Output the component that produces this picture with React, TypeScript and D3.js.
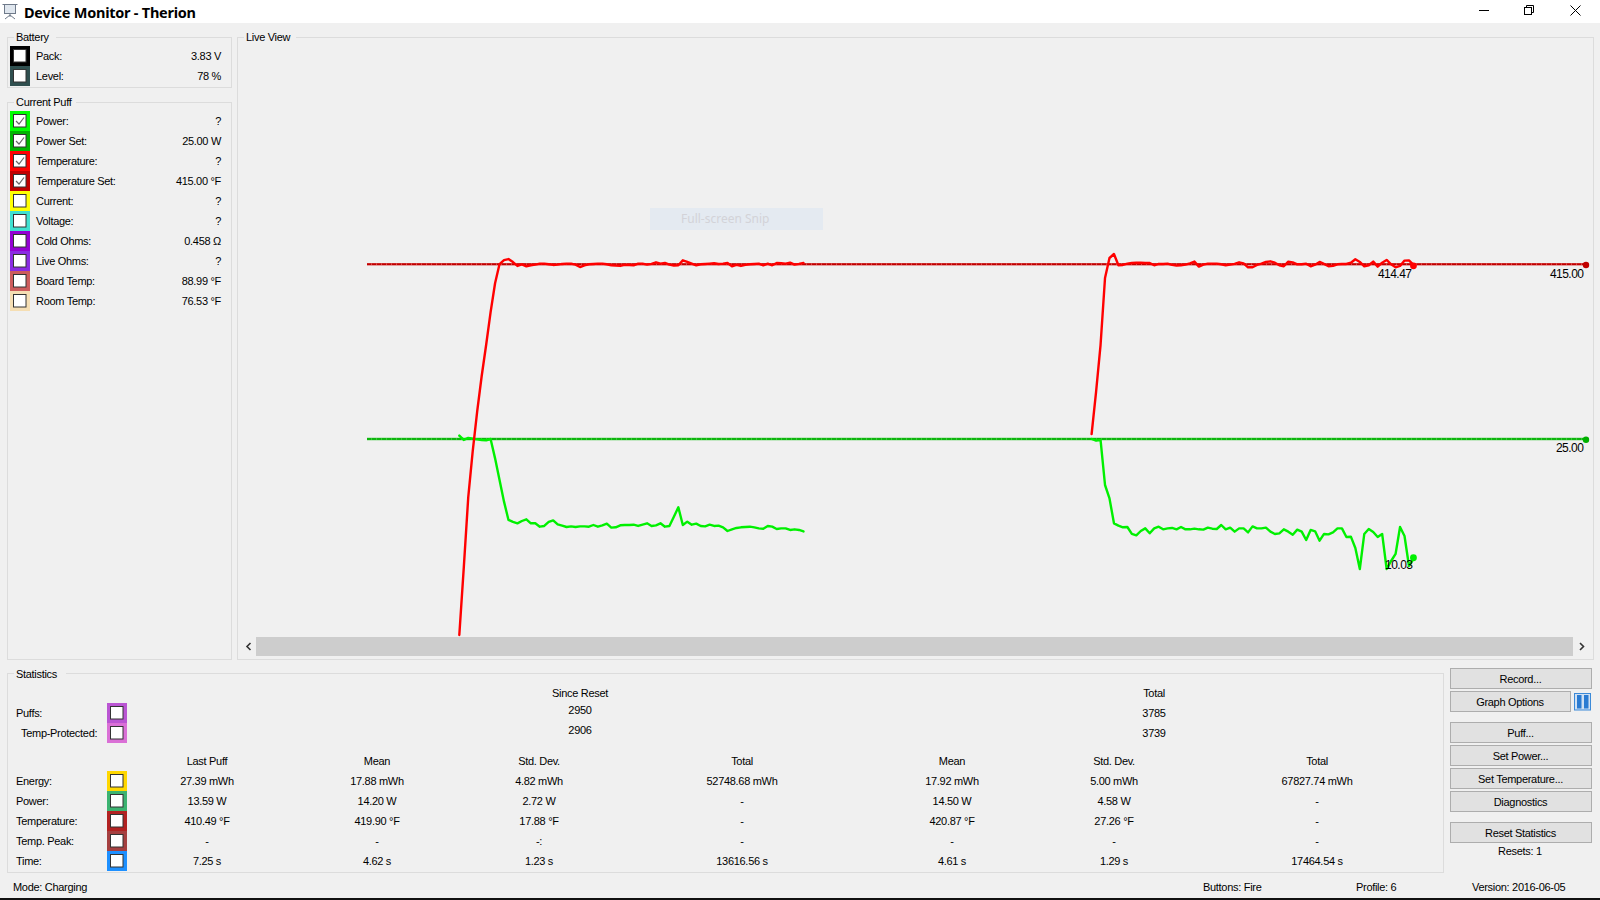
import React from "react";
import * as d3 from "d3";

const sampleStep = 0.1; // seconds per sample
const totalSeconds = 27.27;
const puffOneStart = 2.065;
const puffTwoStart = 16.21;
const setPower = 25;
const setTemperature = 415;

const puffOneTemperature = [
  4.4, 79, 157, 208, 252, 291, 325.6, 362, 394, 415.3, 419.7, 420.8, 417.5, 413.2, 415, 412.8, 413.9, 414.6, 415.7, 415.7,
  415, 414.3, 414.6, 415.4, 415.7, 415.7, 414.6, 412, 413.9, 415, 415.4, 415.7, 415.7, 415, 413.9, 413.5, 413.2, 414.3, 414.3, 413.9,
  415.7, 415.7, 414.6, 415.4, 417.2, 415.7, 416.5, 414.6, 413.5, 413.9, 419.4, 417.6, 415.7, 413.9, 415, 415.4, 415.7, 416.1, 415.4, 415.7,
  416.5, 412.8, 414.3, 413.2, 414.3, 415, 415.4, 415.7, 413.9, 415.7, 413.9, 416.5, 416.1, 415.7, 416.8, 414.6, 415.4, 416.5,
];
const puffOnePower = [
  25.42, 24.88, 25.13, 25.04, 24.96, 24.88, 24.83, 25, 22.58, 19.88, 17.17, 14.88, 14.63, 14.46, 14.75, 14.96, 14.46, 14.46, 14.04, 14.13,
  14.63, 14.83, 14.33, 14.17, 14.0, 14.08, 14.0, 14.08, 14.08, 14.04, 14.25, 14.04, 14.21, 14.42, 13.92, 13.96, 14.21, 14.25, 14.25, 14.29,
  14.13, 14.29, 14.46, 14.13, 14.21, 14.46, 14.04, 14.13, 15.29, 16.46, 14.25, 14.67, 14.29, 14.42, 14.13, 14.08, 14.29, 14.13, 14.17, 13.96,
  13.5, 13.71, 13.88, 13.96, 14.0, 14.04, 13.96, 13.83, 13.79, 14.13, 14.04, 13.75, 13.83, 13.83, 13.63, 13.71, 13.63, 13.45,
];
const puffTwoTemperature = [
  227, 273.6, 325.6, 399.8, 422, 426.4, 413.9, 414.3, 415.7, 416.5, 416.8, 416.8, 416.5, 416.5, 413.9, 415.4, 415.4, 415.7, 414.3, 413.5,
  413.9, 414.6, 416.1, 418, 412.4, 414.6, 415.7, 415.7, 415.7, 415, 413.9, 414.6, 415.4, 417.2, 416.1, 411.7, 411.7, 414.3, 415.7, 417.6,
  418.3, 416.8, 413.9, 412.8, 418, 417.2, 415, 415, 415.7, 412.8, 414.6, 417.6, 415.4, 412.8, 413.2, 415, 415.4, 415.4, 416.8, 420.5,
  417.6, 412.8, 413.9, 418, 412.4, 416.8, 419.8, 415, 411.7, 413.2, 419.1, 419.4, 414.47,
];
const puffTwoPower = [
  25, 24.79, 24.88, 19.25, 17.58, 14.46, 14.17, 13.96, 14.0, 13.13, 12.96, 13.5, 13.83, 13.21, 13.83, 14.04, 13.71, 13.83, 13.88, 13.71,
  14, 13.71, 13.71, 13.79, 13.71, 13.67, 13.92, 13.79, 13.75, 14.25, 13.71, 13.92, 13.42, 13.83, 13.83, 13.33, 14.08, 13.83, 13.83, 13.92,
  13.42, 13.13, 13.21, 13.71, 13.42, 13.04, 13.67, 13.42, 12.38, 13.63, 13.46, 12.29, 13.13, 13.08, 13.33, 13.83, 13.83, 12.75, 12.79, 11.38,
  8.75, 13.13, 13.75, 13.38, 12.75, 13.13, 8.75, 9.75, 10.63, 14, 12.88, 9.13, 10.03,
];

// ---- Panel contents ----
const batteryNames = ["Pack:", "Level:"];
const batteryValues = ["3.83 V", "78 %"];
const batteryColors = ["#000000", "#2f4f4f"];

const puffNames = ["Power:", "Power Set:", "Temperature:", "Temperature Set:", "Current:", "Voltage:", "Cold Ohms:", "Live Ohms:", "Board Temp:", "Room Temp:"];
const puffValues = ["?", "25.00 W", "?", "415.00 °F", "?", "?", "0.458 Ω", "?", "88.99 °F", "76.53 °F"];
const puffColors = ["#00ff00", "#00b400", "#ff0000", "#c00000", "#ffff00", "#40e0d0", "#9400d3", "#8a2be2", "#cd5c5c", "#f5deb3"];
const puffChecked = [true, true, true, true, false, false, false, false, false, false];

const statNames = ["Energy:", "Power:", "Temperature:", "Temp. Peak:", "Time:"];
const statColors = ["#ffd700", "#3cb371", "#b22222", "#a54040", "#1e90ff"];
const statColumns = ["Last Puff", "Mean", "Std. Dev.", "Total", "Mean", "Std. Dev.", "Total"];
const statRows = [
  ["27.39 mWh", "17.88 mWh", "4.82 mWh", "52748.68 mWh", "17.92 mWh", "5.00 mWh", "67827.74 mWh"],
  ["13.59 W", "14.20 W", "2.72 W", "-", "14.50 W", "4.58 W", "-"],
  ["410.49 °F", "419.90 °F", "17.88 °F", "-", "420.87 °F", "27.26 °F", "-"],
  ["-", "-", "-:", "-", "-", "-", "-"],
  ["7.25 s", "4.62 s", "1.23 s", "13616.56 s", "4.61 s", "1.29 s", "17464.54 s"],
];

const buttonLabels = ["Record...", "Graph Options", "Puff...", "Set Power...", "Set Temperature...", "Diagnostics", "Reset Statistics"];

// ---- Layout ----
const columnX = [207, 377, 539, 742, 952, 1114, 1317];
const buttonTop = [668, 691, 722, 745, 768, 791, 822];
const FONT = "'Liberation Sans', Arial, sans-serif";

const xScale = d3.scaleLinear().domain([0, totalSeconds]).range([367, 1586]);
const yTemperature = d3.scaleLinear().domain([0, setTemperature]).range([639, 264.3]);
const yPower = d3.scaleLinear().domain([0, setPower]).range([639, 439]);

function seriesPath(values: number[], start: number, y: d3.ScaleLinear<number, number>) {
  const line = d3
    .line<number>()
    .x((_, i) => xScale(start + i * sampleStep))
    .y((v) => y(v));
  return line(values) ?? "";
}

function T({ x, y, a = "start", children, size = 11, fill = "#000", weight, font, ls = -0.3 }: any) {
  return (
    <text x={x} y={y} textAnchor={a} dominantBaseline="central" fontSize={size} fill={fill} fontWeight={weight} fontFamily={font ?? FONT} letterSpacing={ls}>
      {children}
    </text>
  );
}

function Group({ x, y, w, h, title, tw, ty = 0 }: any) {
  return (
    <g>
      <rect x={x + 0.5} y={y + 0.5} width={w} height={h} fill="none" stroke="#dcdcdc" />
      <rect x={x + 7} y={y - 4} width={tw} height={8} fill="#f0f0f0" />
      <T x={x + 9} y={y + ty}>{title}</T>
    </g>
  );
}

function Swatch({ x, y, color, checked }: any) {
  return (
    <g>
      <rect x={x} y={y} width={20} height={20} fill={color} />
      <rect x={x + 3.5} y={y + 3.5} width={12.5} height={12.5} fill="#fff" stroke="#333" />
      {checked && <path d={`M${x + 6} ${y + 10} l3 3 l5 -6.5`} fill="none" stroke="#666" strokeWidth={1.2} />}
    </g>
  );
}

function SetLine({ y, light, dark }: any) {
  const x0 = xScale(0);
  const x1 = xScale(totalSeconds);
  return (
    <g>
      <line x1={x0} x2={x1} y1={y} y2={y} stroke={light} strokeWidth={2.6} />
      <line x1={x0} x2={x1} y1={y} y2={y} stroke={dark} strokeWidth={1.6} strokeDasharray="4 1" />
    </g>
  );
}

export default function App() {
  const tempEnd = puffTwoStart + (puffTwoTemperature.length - 1) * sampleStep;
  const powerEnd = puffTwoStart + (puffTwoPower.length - 1) * sampleStep;
  return (
    <svg width={1600} height={900} viewBox="0 0 1600 900" style={{ position: "fixed", left: 0, top: 0, display: "block" }}>
      <rect width={1600} height={900} fill="#f0f0f0" />

      {/* Title bar */}
      <rect width={1600} height={23} fill="#fff" />
      <g fill="none" stroke="#6f7a8a" strokeWidth={1}>
        <rect x={4.5} y={4.5} width={11} height={9} fill="#dfe6ee" />
        <path d="M2.5 4.5 H17.5 M10 14 V17 M10 15 L5 19 M10 15 L15 19" />
      </g>
      <T x={24} y={11.5} size={14.5} weight={700} font="'Noto Sans', sans-serif" ls={-0.25}>Device Monitor - Therion</T>
      <rect x={1479} y={10} width={10} height={1} fill="#000" />
      <g fill="none" stroke="#000" strokeWidth={1}>
        <rect x={1524.5} y={7.5} width={7} height={7} fill="#fff" />
        <path d="M1526.5 7.5 V5.5 H1533.5 V12.5 H1531.5" />
        <path d="M1570.5 5.5 L1580.5 15.5 M1580.5 5.5 L1570.5 15.5" />
      </g>

      {/* Battery */}
      <Group x={7} y={37} w={224} h={50} title="Battery" tw={42} />
      {batteryNames.map((n, i) => (
        <g key={n}>
          <Swatch x={10} y={46 + i * 20} color={batteryColors[i]} />
          <T x={36} y={56 + i * 20}>{n}</T>
          <T x={221} y={56 + i * 20} a="end">{batteryValues[i]}</T>
        </g>
      ))}

      {/* Current puff */}
      <Group x={7} y={102} w={224} h={557} title="Current Puff" tw={62} ty={-0.5} />
      {puffNames.map((n, i) => (
        <g key={n}>
          <Swatch x={10} y={111 + i * 20} color={puffColors[i]} checked={puffChecked[i]} />
          <T x={36} y={121 + i * 20}>{n}</T>
          <T x={221} y={121 + i * 20} a="end">{puffValues[i]}</T>
        </g>
      ))}

      {/* Live view */}
      <Group x={237} y={37} w={1356} h={622} title="Live View" tw={52} />
      <rect x={650} y={208} width={173} height={22} fill="#e4eaf1" />
      <T x={681} y={218.5} size={12} fill="#d3d3d8" font="'Noto Sans', sans-serif" ls={0}>Full-screen Snip</T>

      <SetLine y={yPower(setPower)} light="#3bc83b" dark="#00b000" />
      <SetLine y={yTemperature(setTemperature)} light="#d94a4a" dark="#c00000" />
      {[
        { v: puffOnePower, s: puffOneStart, y: yPower, c: "#00f000" },
        { v: puffTwoPower, s: puffTwoStart, y: yPower, c: "#00f000" },
        { v: puffOneTemperature, s: puffOneStart, y: yTemperature, c: "#ff0000" },
        { v: puffTwoTemperature, s: puffTwoStart, y: yTemperature, c: "#ff0000" },
      ].map((d, i) => (
        <path key={i} d={seriesPath(d.v, d.s, d.y)} fill="none" stroke={d.c} strokeWidth={2.4} strokeLinejoin="round" strokeLinecap="round" />
      ))}
      <circle cx={xScale(totalSeconds)} cy={yTemperature(setTemperature) + 0.7} r={3.2} fill="#c00000" />
      <circle cx={xScale(totalSeconds)} cy={yPower(setPower) + 0.7} r={3.2} fill="#00b000" />
      <circle cx={xScale(tempEnd)} cy={yTemperature(puffTwoTemperature[puffTwoTemperature.length - 1]) + 1} r={3.4} fill="#ff0000" />
      <circle cx={xScale(powerEnd)} cy={yPower(puffTwoPower[puffTwoPower.length - 1]) - 1} r={3.4} fill="#00f000" />
      <T x={1378} y={273.5} size={12} ls={-0.55}>414.47</T>
      <T x={1550} y={273.5} size={12} ls={-0.55}>415.00</T>
      <T x={1556} y={447.5} size={12} ls={-0.55}>25.00</T>
      <T x={1385} y={565} size={12} ls={-0.5}>10.03</T>

      {/* Scrollbar */}
      <rect x={242} y={637} width={1348} height={19} fill="#f0f0f0" />
      <rect x={256} y={637} width={1317} height={19} fill="#cdcdcd" />
      <path d="M250.5 643 L247 646.5 L250.5 650" fill="none" stroke="#333" strokeWidth={1.6} />
      <path d="M1580 643 L1583.5 646.5 L1580 650" fill="none" stroke="#333" strokeWidth={1.6} />

      {/* Statistics */}
      <Group x={7} y={673} w={1436} h={199} title="Statistics" tw={52} ty={1} />
      <T x={580} y={693} a="middle">Since Reset</T>
      <T x={1154} y={693} a="middle">Total</T>
      <T x={16} y={713}>Puffs:</T>
      <T x={21} y={733}>Temp-Protected:</T>
      <Swatch x={107} y={703} color="#ba55d3" />
      <Swatch x={107} y={723} color="#da70d6" />
      <T x={580} y={710} a="middle">2950</T>
      <T x={580} y={730} a="middle">2906</T>
      <T x={1154} y={713} a="middle">3785</T>
      <T x={1154} y={733} a="middle">3739</T>
      {statColumns.map((c, i) => (
        <T key={i} x={columnX[i]} y={760.5} a="middle">{c}</T>
      ))}
      {statNames.map((n, r) => (
        <g key={n}>
          <T x={16} y={781 + r * 20}>{n}</T>
          <Swatch x={107} y={771 + r * 20} color={statColors[r]} />
          {statRows[r].map((v, i) => (
            <T key={i} x={columnX[i]} y={781 + r * 20} a="middle">{v}</T>
          ))}
        </g>
      ))}

      {/* Buttons */}
      {buttonLabels.map((b, i) => {
        const w = i === 1 ? 120 : 141;
        return (
          <g key={b}>
            <rect x={1450.5} y={buttonTop[i] + 0.5} width={w} height={20} fill="#e1e1e1" stroke="#adadad" />
            <T x={1450 + w / 2} y={buttonTop[i] + 10.5} a="middle">{b}</T>
          </g>
        );
      })}
      <rect x={1574.5} y={693.5} width={16} height={16.5} fill="#cfe0f3" stroke="#3c8ad8" />
      <rect x={1577} y={695} width={4.5} height={13.5} fill="#2a7bd2" />
      <rect x={1584} y={695} width={4.5} height={13.5} fill="#2a7bd2" />
      <T x={1520} y={851} a="middle">Resets: 1</T>

      {/* Status bar */}
      <T x={13} y={887}>Mode: Charging</T>
      <T x={1203} y={887}>Buttons: Fire</T>
      <T x={1356} y={887}>Profile: 6</T>
      <T x={1472} y={887}>Version: 2016-06-05</T>
      <rect x={0} y={898} width={1600} height={2} fill="#111" />
    </svg>
  );
}
